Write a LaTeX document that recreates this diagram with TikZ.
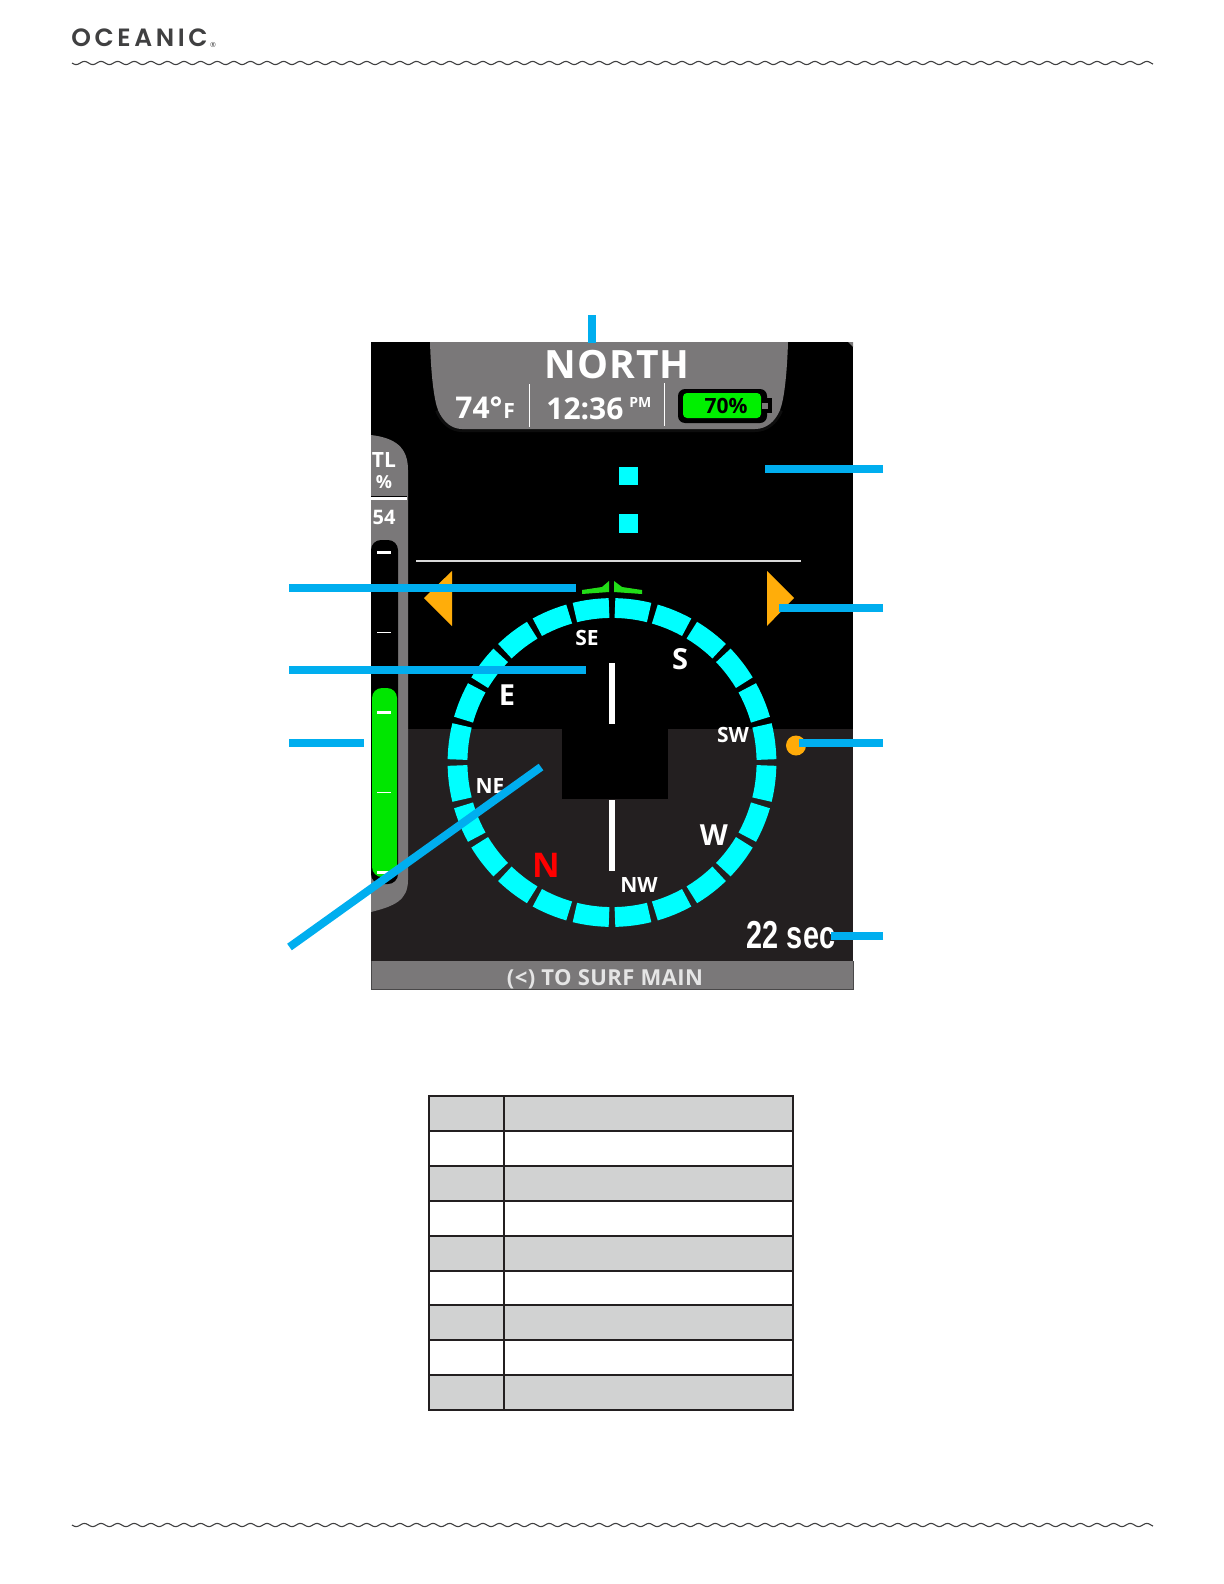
\documentclass[tikz,border=0pt]{standalone}
\usepackage{fontspec}
\setmainfont{Open Sans}
\newfontfamily\logofont{Poppins}[BoldFont={Poppins SemiBold}]
\newfontfamily\narrowfont{Liberation Sans}
\definecolor{callout}{HTML}{00AEEF}
\definecolor{panelgray}{HTML}{7A7879}
\definecolor{darkpanel}{HTML}{231F20}
\definecolor{amber}{HTML}{FFAD0A}
\definecolor{barGreen}{HTML}{00E600}
\definecolor{batGreen}{HTML}{00F000}
\definecolor{lubber}{HTML}{22DD18}
\definecolor{rowgray}{HTML}{D1D2D2}
\definecolor{logogray}{HTML}{404041}
\definecolor{ringcyan}{HTML}{00FFFF}
\newcommand{\semi}{\bfseries}
\tikzset{
  callout line/.style={draw=callout,line width=4pt},
  seg/.style={draw=ringcyan,line width=9.9pt,line cap=butt},
  lbl/.style={inner sep=0pt,text=white,font=\bfseries},
  plain/.style={inner sep=0pt,text=white},
  wave/.style={draw=logogray,line width=0.55pt},
  cell/.style={draw=darkpanel,line width=0.85pt},
}
\begin{document}
\begin{tikzpicture}[x=0.5pt,y=-0.5pt]
\useasboundingbox (0,0) rectangle (1224,1584);
% header
\node[anchor=base west,inner sep=0pt,text=logogray] (logo) at (71,47) {\logofont\bfseries\fontsize{12.5}{12.5}\selectfont O\kern1.8pt C\kern1.8pt E\kern1.8pt A\kern1.8pt N\kern1.8pt I\kern1.8pt C};
\node[anchor=center,inner sep=0pt,text=logogray] (reg) at (213,45) {\fontsize{3.5}{3.5}\selectfont ®};
\draw[wave] plot[domain=72:1153,samples=700] (\x,{63+1.6*sin(21.7*mod(\x-72,16.6))});
\draw[wave] plot[domain=72:1153,samples=700] (\x,{1525+1.6*sin(21.7*mod(\x-72,16.6))});
% screen
\fill[black] (371,342) rectangle (853,730);
\fill[darkpanel] (371,729) rectangle (853,962);
\fill[panelgray] (848,342) -- (853,342) -- (853,347) -- cycle;
% top tab
\draw[white,opacity=0.05,line width=3pt] (438,410) .. controls (443,422) and (452,429) .. (462,429) -- (755,429) .. controls (766,429) and (775,422) .. (780,410);
\fill[panelgray] (430,342) -- (788,342) .. controls (787,375) and (784,400) .. (780,410) .. controls (775,422) and (766,429) .. (755,429) -- (462,429) .. controls (452,429) and (443,422) .. (438,410) .. controls (434,400) and (431,375) .. (430,342) -- cycle;
\node[lbl,text=white] (north) at (617,365) {\fontsize{19.5}{19.5}\selectfont\addfontfeature{LetterSpace=3}NORTH};
\node[plain,anchor=base west] (temp) at (455,418) {\semi\fontsize{15}{15}\selectfont 74°};
\node[plain,anchor=base west] (unit) at (503,418) {\semi\fontsize{10.5}{10.5}\selectfont F};
\draw[white,line width=0.5pt] (529,384) -- (529,427);
\node[plain,anchor=base west] (clock) at (546,419) {\semi\fontsize{15}{15}\selectfont 12:36};
\node[plain,anchor=base west] (ampm) at (629,407) {\semi\fontsize{7}{7}\selectfont PM};
\draw[white,line width=0.5pt] (664,383) -- (664,426);
% battery
\fill[black,rounded corners=3.5pt] (678,389) rectangle (767,423);
\fill[black] (765,398) rectangle (772,413);
\fill[panelgray] (762,403) rectangle (768,409);
\fill[batGreen,rounded corners=2pt] (683,393) rectangle (761,418);
\node[inner sep=0pt,text=black] (bat) at (726,406) {\semi\fontsize{10.5}{10.5}\selectfont 70\%};
% left gauge
\fill[panelgray] (371,435) .. controls (395,438) and (408,447) .. (408,470) -- (408,880) .. controls (408,900) and (395,906) .. (371,912) -- cycle;
\begin{scope}
\clip (371,430) rectangle (410,530);
\node[plain] (tl) at (384,460) {\semi\fontsize{10.5}{10.5}\selectfont TL};
\node[plain] (pct) at (384,482) {\semi\fontsize{9}{9}\selectfont \%};
\node[plain] (sto) at (384,517) {\semi\fontsize{10}{10}\selectfont 54};
\end{scope}
\fill[black] (371,496) rectangle (407,497);
\fill[white] (371,497) rectangle (407,499.5);
\fill[black,rounded corners=5pt] (371,540) rectangle (398,884);
\fill[barGreen,rounded corners=5pt] (372,688) rectangle (397,877);
\foreach \yy/\w in {552/3,632/1,712/3,792/1,872/3}{
  \draw[white,line width=\w*0.5pt] (377,\yy) -- (391,\yy);
}
% orange markers
\fill[amber] (452,571) -- (424,598) -- (452,626) -- cycle;
\fill[amber] (767,571) -- (794,598) -- (767,626) -- cycle;
% horizon line, squares
\draw[white!85!black,line width=0.8pt] (416,561) -- (801,561);
\fill[ringcyan] (619,467) rectangle (638,485);
\fill[ringcyan] (619,514) rectangle (638,533);
% lubber marks
\fill[lubber] (609,581) -- (609,592) -- (582,594) -- (582,590) -- (602,587) -- cycle;
\fill[lubber] (614,581) -- (614,592) -- (642,594) -- (642,590) -- (622,587) -- cycle;
% compass ring
\foreach \k in {0,...,23}{
  \pgfmathsetmacro{\aa}{90-15*\k-1.1}
  \pgfmathsetmacro{\bb}{90-15*\k-13.9}
  \draw[seg] plot[domain=\aa:\bb,samples=7] ({612+154.5*cos(\x)},{762.5-154.5*sin(\x)});
}
% centre
\draw[white,line width=3pt] (612,663) -- (612,724);
\draw[white,line width=3pt] (612,800) -- (612,871);
\fill[black] (562,724) rectangle (668,799);
% compass labels
\node[lbl] (se) at (587,638) {\fontsize{10.5}{10.5}\selectfont SE};
\node[lbl] (s) at (680,659) {\fontsize{14.5}{14.5}\selectfont S};
\node[lbl] (e) at (507,695) {\fontsize{14.5}{14.5}\selectfont E};
\node[lbl] (sw) at (733,735) {\fontsize{10.5}{10.5}\selectfont SW};
\node[lbl] (ne) at (490,786) {\fontsize{10.5}{10.5}\selectfont NE};
\node[lbl,text=red] (n) at (546,865) {\fontsize{17}{17}\selectfont N};
\node[lbl] (w) at (714,835) {\fontsize{14.5}{14.5}\selectfont W};
\node[lbl] (nw) at (639,885) {\fontsize{10.5}{10.5}\selectfont NW};
\fill[amber!95!orange] (796,745.5) circle [radius=10];
\node[plain] (secs) at (791,935) {\narrowfont\bfseries\fontsize{19.5}{19.5}\selectfont\scalebox{0.74}[1]{22 sec}};
% bottom bar
\fill[panelgray] (371,961) rectangle (853,989);
\draw[panelgray!60!black,line width=0.4pt] (371,961) -- (371,989) -- (853,989) -- (853,961);
\node[plain,text=white!90!black] (bar) at (605,979) {\semi\fontsize{11}{11}\selectfont\addfontfeature{LetterSpace=2}(<) TO SURF MAIN};
% callouts
\coordinate (c1a) at (592,315);  \coordinate (c1b) at (592,343);
\coordinate (c2a) at (883,469);  \coordinate (c2b) at (765,469);
\coordinate (c3a) at (883,608);  \coordinate (c3b) at (779,608);
\coordinate (c4a) at (883,743);  \coordinate (c4b) at (799,743);
\coordinate (c5a) at (883,936);  \coordinate (c5b) at (831,936);
\coordinate (c6a) at (289,588);  \coordinate (c6b) at (576,588);
\coordinate (c7a) at (289,670);  \coordinate (c7b) at (586,670);
\coordinate (c8a) at (289,743);  \coordinate (c8b) at (364,743);
\coordinate (c9a) at (289.5,947);\coordinate (c9b) at (541,767);
\foreach \c in {1,...,9}{ \draw[callout line] (c\c a) -- (c\c b); }
% table
\foreach \ya/\yb/\f in {1096/1131/rowgray,1131/1166/white,1166/1201/rowgray,1201/1236/white,1236/1271/rowgray,1271/1305/white,1305/1340/rowgray,1340/1375/white,1375/1410/rowgray}{
  \filldraw[cell,fill=\f] (429,\ya) rectangle (504,\yb);
  \filldraw[cell,fill=\f] (504,\ya) rectangle (793,\yb);
}
\end{tikzpicture}
\end{document}
